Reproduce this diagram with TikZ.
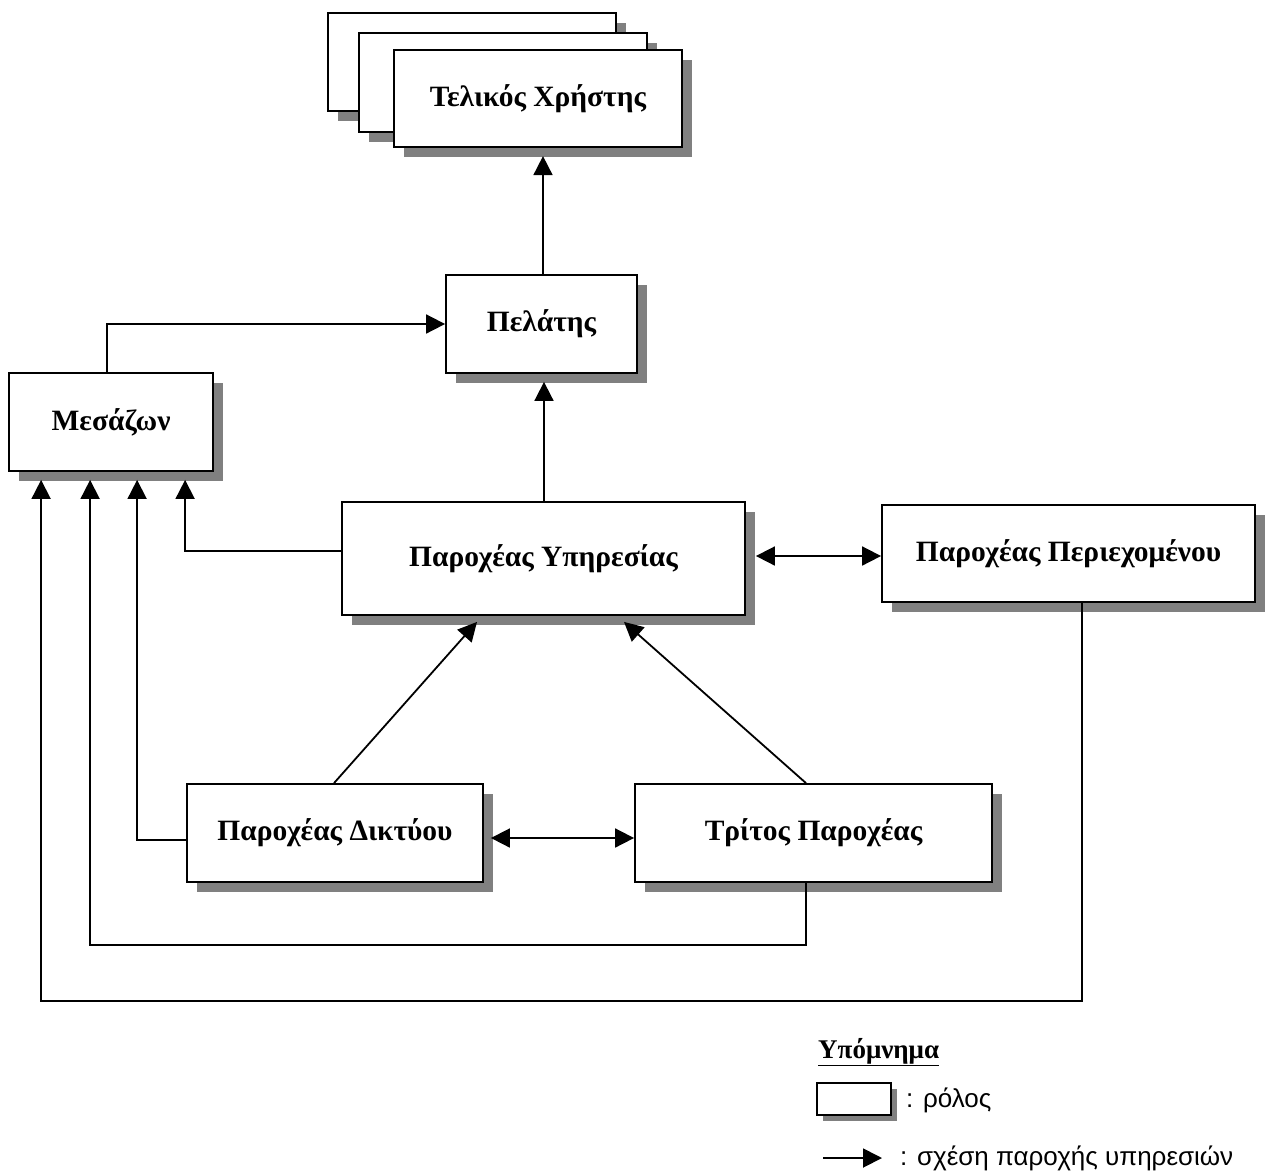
\documentclass[tikz,border=0pt]{standalone}
\usepackage{fontspec}
\setmainfont{Liberation Serif}
\newfontfamily\legsans{Liberation Sans}
\usetikzlibrary{arrows.meta,calc,shadows}
\begin{document}
\begin{tikzpicture}[x=1pt,y=-1pt,
  lw/.style={line width=1.8pt},
  role/.style={draw, lw, fill=white, inner sep=0pt, align=center,
    font=\bfseries\fontsize{29.5}{34}\selectfont,
    general shadow={fill=black!50, shadow xshift=10pt, shadow yshift=-10pt}},
  conn/.style={lw, -{Triangle[length=19pt,width=19pt]}},
  dconn/.style={lw, {Triangle[length=19pt,width=19pt]}-{Triangle[length=19pt,width=19pt]}}
]
\useasboundingbox (0,0) rectangle (1266,1173);

% stacked end users
\node[role, minimum width=288pt, minimum height=98pt] (tx1) at (472,62) {};
\node[role, minimum width=288pt, minimum height=99pt] (tx2) at (503,82.5) {};
\node[role, minimum width=288pt, minimum height=97pt] (tx3) at (538,98.5) {Τελικός Χρήστης};

\node[role, minimum width=191pt, minimum height=98pt] (pel) at (541.5,324) {Πελάτης};
\node[role, minimum width=204pt, minimum height=98pt] (mes) at (111,422) {Μεσάζων};
\node[role, minimum width=403pt, minimum height=113pt] (py) at (543.5,558.5) {Παροχέας Υπηρεσίας};
\node[role, minimum width=373pt, minimum height=97pt] (pp) at (1068.5,553.5) {Παροχέας Περιεχομένου};
\node[role, minimum width=296pt, minimum height=98pt] (pd) at (335,833) {Παροχέας Δικτύου};
\node[role, minimum width=357pt, minimum height=98pt] (tp) at (813.5,833) {Τρίτος Παροχέας};

% connectors
\draw[conn] ($(pel.north)+(1.5,0)$) -- ($(pel.north)+(1.5,-118)$);
\draw[conn] ($(mes.north)+(-4,0)$) |- (pel.west);
\draw[conn] ($(py.north)+(0.5,0)$) -- ($(py.north |- pel.south)+(0.5,8)$);
\draw[conn] ($(py.west)+(0,-7.5)$) -| ($(mes.south west)+(177,8)$);
\draw[conn] ($(pd.west)+(0,7)$) -| ($(mes.south west)+(129,8)$);
\draw[conn] ($(tp.south)+(-7.5,0)$) |- ($(mes.south west)+(82,473)$) -- ($(mes.south west)+(82,8)$);
\draw[conn] ($(pp.south)+(13.5,0)$) |- ($(mes.south west)+(33,529)$) -- ($(mes.south west)+(33,8)$);
\draw[conn] ($(pd.north)+(-1,0)$) -- ($(py.south)+(-66.5,6)$);
\draw[conn] ($(tp.north)+(-7.5,0)$) -- ($(py.south)+(80.5,6)$);
\coordinate (a) at ($(py.east)+(10,-2.5)$);
\draw[dconn] (a) -- (a -| pp.west);
\coordinate (b) at ($(pd.east)+(7,5)$);
\draw[dconn] (b) -- (b -| tp.west);

% legend
\node[anchor=base west, inner sep=0pt, font=\bfseries\fontsize{27}{31}\selectfont] (legt) at (818,1058) {\underline{Υπόμνημα}};
\node[draw, lw, fill=white, inner sep=0pt, minimum width=74pt, minimum height=32pt,
  general shadow={fill=black!50, shadow xshift=6pt, shadow yshift=-6pt}] (legbox) at (854,1099) {};
\node[anchor=west, inner sep=0pt, font=\legsans\fontsize{26}{30}\selectfont] (legrole) at (906,1100) {: ρόλος};
\coordinate (la) at (823,1158);
\coordinate (lb) at (882,1158);
\draw[conn] (la) -- (lb);
\node[anchor=west, inner sep=0pt, font=\legsans\fontsize{26}{30}\selectfont] (legarr) at (900,1158) {: σχέση παροχής υπηρεσιών};
\end{tikzpicture}
\end{document}
